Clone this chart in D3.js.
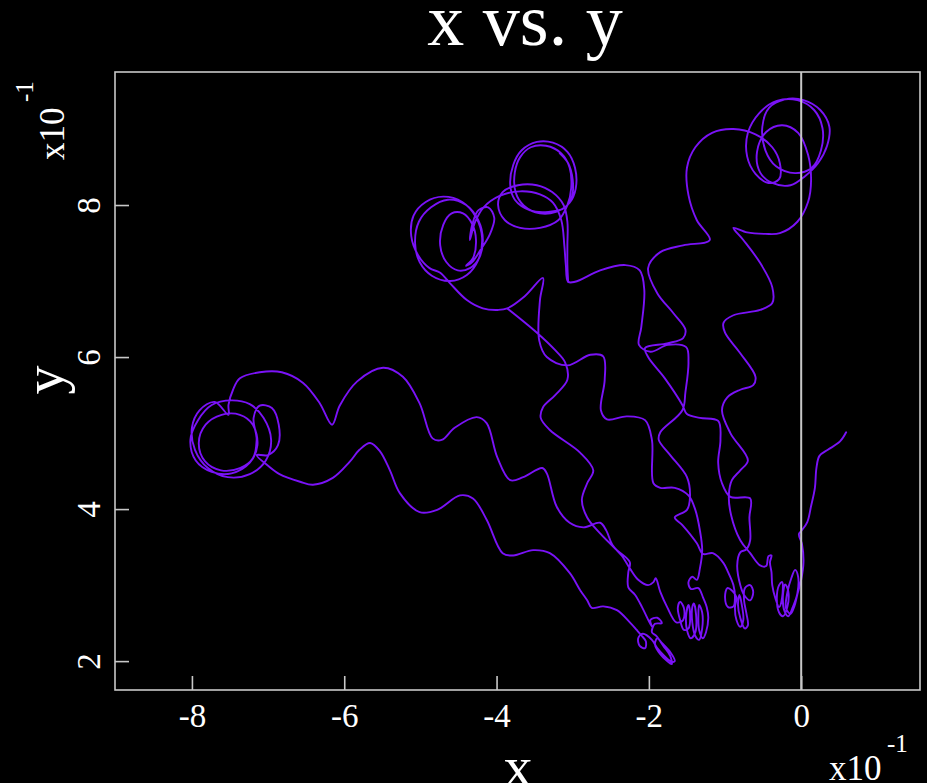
<!DOCTYPE html>
<html><head><meta charset="utf-8">
<script src="https://cdn.jsdelivr.net/npm/d3@7"></script>
<style>html,body{margin:0;padding:0;background:#000;overflow:hidden}</style>
</head><body>
<svg id="chart" width="927" height="783"></svg>
<script>
// ---- data (units of 10^-1) ----
const xTicks = [-8, -6, -4, -2, 0];
const yTicks = [2, 4, 6, 8];
const xDomain = [-9.01, 1.56];
const yDomain = [1.62, 9.75];
const titleText = "x vs. y";
const xLabel = "x", yLabel = "y";

const tailRight = [[0.59,5.01],[0.51,4.89],[0.35,4.78],[0.24,4.70],[0.20,4.54],[0.18,4.28],[0.13,4.04],[0.08,3.83],[0.00,3.71],[-0.03,3.67],[0.01,3.54],[0.03,3.30],[0.00,3.07],[-0.05,2.88]];
const loopsB4 = [[-0.09,2.72],[-0.14,2.62],[-0.20,2.70],[-0.18,2.91],[-0.13,3.09],[-0.08,3.20],[-0.04,3.11],[-0.05,2.89],[-0.11,2.71],[-0.17,2.59],[-0.22,2.66],[-0.24,2.86],[-0.21,3.01],[-0.17,2.92],[-0.18,2.72],[-0.24,2.59],[-0.29,2.64],[-0.32,2.83],[-0.29,3.00],[-0.25,3.04],[-0.25,2.84],[-0.29,2.71],[-0.34,2.83],[-0.38,3.00],[-0.39,3.17],[-0.41,3.30],[-0.39,3.39],[-0.43,3.38],[-0.46,3.25],[-0.54,3.26]];
const strandW1 = [[-0.67,3.42],[-0.80,3.59],[-0.92,3.92],[-0.95,4.18],[-0.91,4.38],[-0.80,4.51],[-0.70,4.64],[-0.93,5.00],[-1.04,5.30],[-0.97,5.47],[-0.80,5.57],[-0.63,5.63],[-0.60,5.74],[-0.80,6.05],[-1.00,6.32],[-1.02,6.45],[-0.89,6.55],[-0.54,6.62],[-0.38,6.71],[-0.38,6.92],[-0.54,7.24],[-0.76,7.54],[-0.89,7.70],[-0.71,7.64],[-0.47,7.62],[-0.28,7.63],[-0.05,7.78],[0.09,8.04]];
const loopsT4 = [[0.13,8.33],[0.09,8.66],[-0.04,8.95],[-0.25,9.05],[-0.46,8.96],[-0.58,8.70],[-0.54,8.43],[-0.38,8.29],[-0.14,8.26],[0.05,8.38],[0.22,8.55],[0.34,8.78],[0.37,9.03],[0.25,9.25],[0.03,9.38],[-0.21,9.39],[-0.42,9.28],[-0.51,9.03],[-0.47,8.72],[-0.33,8.51],[-0.08,8.42],[0.14,8.49],[0.26,8.72],[0.28,9.01],[0.17,9.25],[-0.05,9.38],[-0.32,9.37],[-0.55,9.21],[-0.70,8.95],[-0.71,8.64],[-0.60,8.41],[-0.43,8.29],[-0.29,8.34],[-0.28,8.55],[-0.38,8.76],[-0.60,8.93],[-0.89,9.00],[-1.17,8.95],[-1.39,8.76],[-1.50,8.49],[-1.48,8.13],[-1.37,7.80],[-1.20,7.54]];
const strandW2 = [[-1.55,7.47],[-1.85,7.38],[-2.01,7.17],[-1.89,6.84],[-1.68,6.58],[-1.52,6.36],[-1.55,6.25],[-1.76,6.18],[-2.05,6.12],[-2.01,6.00],[-1.79,5.72],[-1.56,5.37],[-1.50,5.25],[-1.33,5.20],[-1.09,5.16],[-1.06,4.91],[-1.09,4.61],[-1.04,4.34],[-0.93,4.16],[-0.67,4.14],[-0.68,3.89],[-0.67,3.59],[-0.72,3.47],[-0.80,3.43],[-0.84,3.26],[-0.80,3.00]];
const loopsB3 = [[-0.75,2.87],[-0.67,2.80],[-0.63,2.91],[-0.67,3.00],[-0.74,2.96],[-0.75,2.80],[-0.72,2.63],[-0.70,2.47],[-0.74,2.43],[-0.80,2.57],[-0.83,2.74],[-0.81,2.87],[-0.78,2.74],[-0.76,2.54],[-0.80,2.45],[-0.85,2.54],[-0.87,2.71],[-0.85,2.84],[-0.91,2.93],[-0.97,2.96],[-1.00,2.84],[-0.96,2.71],[-0.89,2.72],[-0.87,2.83],[-0.89,3.00],[-0.96,3.17],[-1.02,3.29]];
const strandBranch = [[-1.16,3.42],[-1.29,3.41],[-1.37,3.55],[-1.56,3.79],[-1.66,3.89],[-1.50,3.99],[-1.46,4.16],[-1.50,4.42],[-1.72,4.71],[-1.87,4.91],[-1.85,5.01],[-1.56,5.30],[-1.52,5.54],[-1.48,5.93],[-1.51,6.13],[-1.75,6.16],[-1.98,6.07],[-2.13,6.16],[-2.10,6.39],[-2.06,6.88],[-2.12,7.14],[-2.31,7.21],[-2.64,7.14],[-2.97,6.99],[-3.06,6.99]];
const arcUpper = [[-3.09,7.21],[-3.11,7.47],[-3.15,7.80],[-3.26,8.03],[-3.43,8.14],[-3.69,8.18],[-3.96,8.12],[-4.17,7.97],[-4.28,7.78],[-4.35,7.54]];
const loopsT2 = [[-4.32,7.74],[-4.24,7.93],[-4.11,7.97],[-4.03,7.83],[-4.09,7.61],[-4.21,7.41],[-4.32,7.25],[-4.40,7.20],[-4.31,7.30],[-4.27,7.54],[-4.32,7.75],[-4.44,7.89],[-4.59,7.89],[-4.70,7.74],[-4.74,7.47],[-4.66,7.25],[-4.51,7.14],[-4.35,7.17],[-4.23,7.30],[-4.18,7.54],[-4.24,7.80],[-4.40,8.00],[-4.64,8.07],[-4.86,7.97],[-5.02,7.78],[-5.07,7.50],[-5.01,7.25],[-4.85,7.07],[-4.61,7.00],[-4.39,7.08],[-4.24,7.28],[-4.19,7.57],[-4.27,7.84],[-4.45,8.04],[-4.70,8.11],[-4.93,8.04],[-5.09,7.86],[-5.12,7.59],[-5.03,7.34],[-4.88,7.17],[-4.74,7.11]];
const loopBottom = [[-4.61,6.97],[-4.39,6.75],[-4.18,6.64],[-3.98,6.62],[-3.86,6.64],[-3.63,6.80],[-3.39,7.04]];
const strandM2 = [[-3.43,6.75],[-3.44,6.22],[-3.34,6.00],[-3.07,5.89],[-2.77,6.03],[-2.60,6.01],[-2.58,5.70],[-2.63,5.30],[-2.55,5.18],[-2.29,5.22],[-2.05,5.17],[-1.96,4.91],[-1.94,4.34],[-1.85,4.28],[-1.66,4.28],[-1.48,4.18],[-1.39,3.99],[-1.33,3.72],[-1.30,3.46],[-1.33,3.22],[-1.37,3.07],[-1.43,3.11],[-1.48,3.04],[-1.45,2.95],[-1.35,2.96],[-1.29,2.84],[-1.24,2.71]];
const loopsB2 = [[-1.22,2.57],[-1.25,2.38],[-1.29,2.30],[-1.34,2.41],[-1.35,2.61],[-1.34,2.74],[-1.30,2.64],[-1.30,2.43],[-1.34,2.28],[-1.39,2.33],[-1.43,2.51],[-1.43,2.71],[-1.41,2.76],[-1.38,2.61],[-1.39,2.38],[-1.45,2.30],[-1.50,2.41],[-1.51,2.61],[-1.48,2.74],[-1.46,2.64],[-1.48,2.43],[-1.54,2.41],[-1.59,2.54],[-1.62,2.70],[-1.59,2.78],[-1.54,2.70],[-1.55,2.54],[-1.64,2.51],[-1.76,2.71],[-1.85,2.91],[-1.91,3.09],[-1.94,3.04],[-2.01,3.00],[-2.14,3.07],[-2.25,3.22]];
const strandU1 = [[-2.35,3.38],[-2.48,3.53],[-2.56,3.72],[-2.64,3.82],[-2.86,3.76],[-3.04,3.82],[-3.21,4.03],[-3.34,4.47],[-3.40,4.54],[-3.65,4.42],[-3.82,4.38],[-3.99,4.68],[-4.13,5.13],[-4.26,5.21],[-4.55,5.07],[-4.72,4.91],[-4.84,4.93],[-5.01,5.39],[-5.23,5.74],[-5.49,5.86],[-5.83,5.68],[-6.06,5.36],[-6.16,5.11],[-6.32,5.39],[-6.54,5.66],[-6.82,5.80],[-7.11,5.80],[-7.37,5.72],[-7.46,5.57],[-7.52,5.37],[-7.52,5.24]];
const loopsT1 = [[-7.70,5.41],[-7.90,5.30],[-8.00,5.07],[-7.96,4.78],[-7.79,4.54],[-7.53,4.42],[-7.24,4.46],[-7.03,4.64],[-6.96,4.91],[-7.06,5.20],[-7.24,5.38],[-7.48,5.43],[-7.74,5.37],[-7.92,5.17],[-8.02,4.91],[-7.95,4.64],[-7.74,4.49],[-7.48,4.47],[-7.24,4.61],[-7.14,4.84],[-7.20,5.11],[-7.37,5.24],[-7.61,5.24],[-7.82,5.11],[-7.91,4.87],[-7.83,4.63],[-7.62,4.51],[-7.37,4.54],[-7.20,4.67],[-7.15,4.91],[-7.19,5.20],[-7.11,5.36],[-6.95,5.33],[-6.86,5.11],[-6.87,4.84],[-7.00,4.71],[-7.15,4.71]];
const strandL1 = [[-7.00,4.57],[-6.85,4.46],[-6.58,4.36],[-6.41,4.32],[-6.15,4.41],[-5.93,4.62],[-5.80,4.78],[-5.66,4.87],[-5.53,4.76],[-5.40,4.51],[-5.27,4.21],[-5.01,3.96],[-4.78,3.99],[-4.48,4.18],[-4.31,4.14],[-4.13,3.86],[-3.92,3.42],[-3.78,3.39],[-3.52,3.46],[-3.30,3.42],[-3.04,3.16],[-2.90,2.93],[-2.81,2.80],[-2.75,2.70],[-2.60,2.72],[-2.42,2.67],[-2.25,2.51],[-2.16,2.41],[-2.10,2.34],[-2.04,2.26],[-2.05,2.17],[-2.12,2.20],[-2.14,2.30],[-2.08,2.36],[-1.96,2.28]];
const loopsB1 = [[-1.89,2.17],[-1.80,2.07],[-1.70,1.99],[-1.66,2.00],[-1.72,2.12],[-1.83,2.24],[-1.89,2.30],[-1.92,2.22],[-1.85,2.09],[-1.76,2.00],[-1.70,1.96],[-1.72,2.07],[-1.81,2.20],[-1.90,2.33],[-1.96,2.38],[-1.92,2.49],[-1.83,2.50],[-1.89,2.57],[-1.98,2.54],[-1.96,2.45]];
const strandM3 = [[-2.09,2.71],[-2.18,2.87],[-2.27,2.97],[-2.27,3.17],[-2.25,3.30],[-2.42,3.46],[-2.64,3.68],[-2.81,3.89],[-2.88,4.12],[-2.81,4.34],[-2.73,4.51],[-2.90,4.74],[-3.30,5.04],[-3.42,5.20],[-3.39,5.34],[-3.23,5.50],[-3.07,5.70],[-3.10,5.93],[-3.23,6.09],[-3.47,6.32],[-3.86,6.64]];
const loopsT3 = [[-3.17,8.68],[-3.06,8.55],[-3.00,8.33],[-3.01,8.11],[-3.11,7.96],[-3.32,7.91],[-3.56,7.93],[-3.76,8.07],[-3.82,8.26],[-3.78,8.53],[-3.67,8.72],[-3.47,8.83],[-3.26,8.82],[-3.07,8.70],[-2.97,8.49],[-2.96,8.22],[-3.04,8.03],[-3.22,7.91],[-3.43,7.89],[-3.64,7.99],[-3.75,8.17],[-3.76,8.43],[-3.69,8.63],[-3.55,8.76],[-3.35,8.78],[-3.15,8.68],[-3.04,8.49],[-3.02,8.22],[-3.07,8.00],[-3.19,7.80],[-3.43,7.70],[-3.69,7.70],[-3.89,7.80],[-3.98,8.00],[-3.92,8.17],[-3.72,8.26],[-3.47,8.26],[-3.27,8.17],[-3.12,8.00],[-3.07,7.78],[-3.07,7.47],[-3.07,7.21],[-3.06,6.99]];

const trajectory = [].concat(tailRight, loopsB4, strandW1, loopsT4, strandW2, loopsB3, strandBranch,
  arcUpper, loopsT2, loopBottom, strandM2, loopsB2, strandU1, loopsT1, strandL1, loopsB1, strandM3);
const paths = [trajectory, loopsT3];

// ---- drawing ----
const W = 927, H = 783;
const plot = {left: 115, top: 72, right: 920, bottom: 690};
const serif = '"Liberation Serif","Times New Roman",serif';
const lineColor = '#7a12f7', axisColor = '#c8c8c8';

const svg = d3.select('#chart');
svg.append('rect').attr('width', W).attr('height', H).attr('fill', '#000');

const x = d3.scaleLinear().domain(xDomain).range([plot.left, plot.right]);
const y = d3.scaleLinear().domain(yDomain).range([plot.bottom, plot.top]);

const line = d3.line().x(d => x(d[0])).y(d => y(d[1])).curve(d3.curveCatmullRom.alpha(0.5));

svg.append('g').selectAll('path').data(paths).join('path')
  .attr('d', line).attr('fill', 'none').attr('stroke', lineColor)
  .attr('stroke-width', 1.9).attr('stroke-linejoin', 'round').attr('stroke-linecap', 'round');

// zero line
svg.append('line').attr('x1', x(0)).attr('x2', x(0)).attr('y1', plot.top).attr('y2', plot.bottom)
  .attr('stroke', axisColor).attr('stroke-width', 2);

// frame
svg.append('rect').attr('x', plot.left).attr('y', plot.top)
  .attr('width', plot.right - plot.left).attr('height', plot.bottom - plot.top)
  .attr('fill', 'none').attr('stroke', axisColor).attr('stroke-width', 1.6);

// x axis
const gx = svg.append('g').attr('transform', `translate(0,${plot.bottom})`)
  .call(d3.axisBottom(x).tickValues(xTicks).tickSize(-14).tickPadding(14).tickFormat(d => String(d)));
gx.select('.domain').remove();
gx.selectAll('line').attr('stroke', axisColor).attr('stroke-width', 1.6);
gx.selectAll('text').attr('fill', '#fff').attr('font-family', serif).attr('font-size', 33)
  .attr('dy', null).attr('y', 37);

// y axis
const gy = svg.append('g').attr('transform', `translate(${plot.left},0)`)
  .call(d3.axisLeft(y).tickValues(yTicks).tickSize(-14).tickFormat(d => String(d)));
gy.select('.domain').remove();
gy.selectAll('line').attr('stroke', axisColor).attr('stroke-width', 1.6);
gy.selectAll('text').attr('fill', '#fff').attr('font-family', serif).attr('font-size', 33)
  .attr('x', null).attr('dy', null).attr('text-anchor', 'middle')
  .attr('transform', 'translate(-15,0) rotate(-90)');

// titles
svg.append('text').attr('x', 525).attr('y', 45).attr('text-anchor', 'middle')
  .attr('font-family', serif).attr('font-size', 74).attr('fill', '#fff').text(titleText);
svg.append('text').attr('x', 518).attr('y', 786).attr('text-anchor', 'middle')
  .attr('font-family', serif).attr('font-size', 58).attr('fill', '#fff').text(xLabel);
svg.append('text').attr('transform', 'translate(63,380) rotate(-90)').attr('text-anchor', 'middle')
  .attr('font-family', serif).attr('font-size', 58).attr('fill', '#fff').text(yLabel);

// exponent labels
svg.append('text').attr('x', 829).attr('y', 780).attr('font-family', serif).attr('font-size', 35)
  .attr('fill', '#fff').text('x10');
svg.append('text').attr('x', 887).attr('y', 752).attr('font-family', serif).attr('font-size', 25)
  .attr('fill', '#fff').text('-1');
svg.append('text').attr('transform', 'translate(64,160) rotate(-90)').attr('font-family', serif)
  .attr('font-size', 35).attr('fill', '#fff').text('x10');
svg.append('text').attr('transform', 'translate(33,102) rotate(-90)').attr('font-family', serif)
  .attr('font-size', 25).attr('fill', '#fff').text('-1');
</script>
</body></html>
